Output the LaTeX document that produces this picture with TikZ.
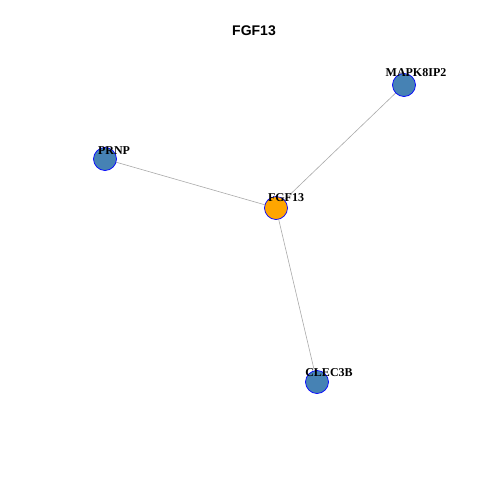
\documentclass[tikz,border=0pt]{standalone}
\usepackage{fontspec}
\setmainfont{Liberation Serif}
\newfontfamily\titlefont{Liberation Sans}
\definecolor{steel}{HTML}{4682B4}
\definecolor{orng}{HTML}{FFA500}
\definecolor{edgegray}{HTML}{AAAAAA}
\begin{document}
\begin{tikzpicture}[x=1pt,y=-1pt,
  vert/.style={circle,draw=blue,line width=0.7pt,minimum size=23pt,inner sep=0pt,fill=steel},
  hub/.style={vert,fill=orng},
  lbl/.style={font=\fontsize{12}{14}\selectfont\bfseries,anchor=base,inner sep=0pt},
  edge/.style={draw=edgegray,line width=0.6pt}]
\useasboundingbox (0,0) rectangle (480,480);
\fill[white] (0,0) rectangle (480,480);
\node[font=\titlefont\fontsize{14}{16}\selectfont\bfseries] (title) at (254,31) {FGF13};
\coordinate (c1) at (276,208);
\coordinate (c2) at (404,85);
\coordinate (c3) at (105,159);
\coordinate (c4) at (317,382);
\draw[edge] (c1) -- (c2);
\draw[edge] (c1) -- (c3);
\draw[edge] (c1) -- (c4);
\node[hub] (n1) at (c1) {};
\node[vert] (n2) at (c2) {};
\node[vert] (n3) at (c3) {};
\node[vert] (n4) at (c4) {};
\node[lbl] (l1) at (286,201) {FGF13};
\node[lbl] (l2) at (416,76) {MAPK8IP2};
\node[lbl] (l3) at (114,154) {PRNP};
\node[lbl] (l4) at (329,376) {CLEC3B};
\end{tikzpicture}
\end{document}
